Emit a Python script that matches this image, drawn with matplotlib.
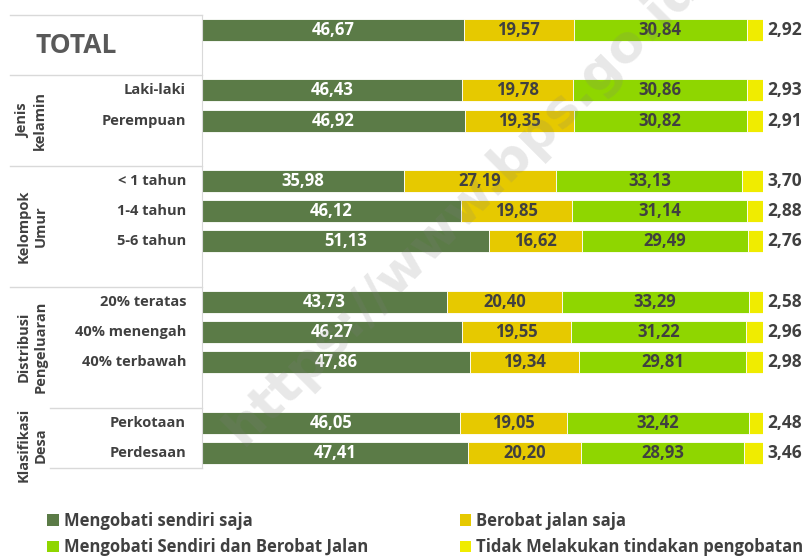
import matplotlib
matplotlib.use("Agg")
import matplotlib.pyplot as plt
from matplotlib.patches import Patch

plt.rcParams['font.family'] = ['Open Sans', 'DejaVu Sans']

# ---- data ----
categories = ["TOTAL", "Laki-laki", "Perempuan", "< 1 tahun", "1-4 tahun", "5-6 tahun",
              "20% teratas", "40% menengah", "40% terbawah", "Perkotaan", "Perdesaan"]
group_of = [0, 1, 1, 2, 2, 2, 3, 3, 3, 4, 4]
group_names = ["", "Jenis\nkelamin", "Kelompok\nUmur", "Distribusi\nPengeluaran", "Klasifikasi\nDesa"]

sendiri = [46.67, 46.43, 46.92, 35.98, 46.12, 51.13, 43.73, 46.27, 47.86, 46.05, 47.41]
jalan = [19.57, 19.78, 19.35, 27.19, 19.85, 16.62, 20.40, 19.55, 19.34, 19.05, 20.20]
keduanya = [30.84, 30.86, 30.82, 33.13, 31.14, 29.49, 33.29, 31.22, 29.81, 32.42, 28.93]
tidak = [2.92, 2.93, 2.91, 3.70, 2.88, 2.76, 2.58, 2.96, 2.98, 2.48, 3.46]

series_names = ["Mengobati sendiri saja", "Berobat jalan saja",
                "Mengobati Sendiri dan Berobat Jalan", "Tidak Melakukan tindakan pengobatan"]
colors = ["#5B7B47", "#E6C900", "#8FD600", "#F0EC00"]
text_dark = "#404040"

# ---- layout ----
W, H = 809, 557
fig = plt.figure(figsize=(W / 100, H / 100), dpi=100)
ax_top_px, ax_bot_px = 0, 480
ax = fig.add_axes([202 / W, 1 - ax_bot_px / H, 561 / W, (ax_bot_px - ax_top_px) / H])

# slot positions: one empty slot between groups
slots = []
s = 0
prev = group_of[0]
for i, g in enumerate(group_of):
    if i > 0:
        s += 2 if g != prev else 1
    slots.append(s)
    prev = g

px_per_slot = 30.2
first_px = 30
ax.set_ylim((ax_bot_px - first_px) / px_per_slot, (ax_top_px - first_px) / px_per_slot)
ax.set_xlim(0, 100)
bar_h = 22 / px_per_slot

series = [sendiri, jalan, keduanya, tidak]
lefts = [0.0] * len(categories)
for k, vals in enumerate(series):
    ax.barh(slots, vals, left=lefts, height=bar_h, color=colors[k],
            edgecolor="white", linewidth=0.6, zorder=2)
    for i, v in enumerate(vals):
        if k < 3:
            ax.text(lefts[i] + v / 2, slots[i], f"{v:.2f}".replace(".", ","),
                    ha="center", va="center", fontsize=12, fontweight="bold",
                    color="white" if k == 0 else text_dark, zorder=3)
        else:
            ax.text(100.8, slots[i], f"{v:.2f}".replace(".", ","),
                    ha="left", va="center", fontsize=12.5, fontweight="bold",
                    color=text_dark, clip_on=False, zorder=3)
    lefts = [a + b for a, b in zip(lefts, vals)]

# axes styling
for sp in ["top", "right", "bottom"]:
    ax.spines[sp].set_visible(False)
ax.spines["left"].set_color("#d9d9d9")
ax.spines["left"].set_linewidth(0.8)
ax.set_xticks([])
ax.set_yticks([])
ax.spines["left"].set_bounds(slots[0] - 0.5, slots[-1] + 0.5)

def x_of_px(px):
    return (px - 202) / 561 * 100

# category labels
for i, c in enumerate(categories):
    if c == "TOTAL":
        ax.text(x_of_px(35), slots[i] + 0.5, c, ha="left", va="center", fontsize=19,
                fontweight="bold", color="#595959", clip_on=False)
    else:
        ax.text(x_of_px(186), slots[i], c, ha="right", va="center", fontsize=10.5,
                fontweight="bold", color=text_dark, clip_on=False)

# separator lines and group labels
n_groups = len(group_names)
bounds = []
for g in range(n_groups):
    idx = [slots[i] for i in range(len(categories)) if group_of[i] == g]
    bounds.append((min(idx) - 0.5, max(idx) + 0.5))
sep_y = [b[0] for b in bounds] + [bounds[-1][1]]
for j, y in enumerate(sep_y):
    x0 = x_of_px(10) if j < 4 else x_of_px(50)
    ax.plot([x0, 0], [y, y], color="#d9d9d9", lw=1.0, clip_on=False, zorder=1)

for g in range(1, n_groups):
    yc = (sep_y[g] + sep_y[g + 1]) / 2
    if g == n_groups - 1:
        yc += 0.25
    ax.text(x_of_px(32), yc, group_names[g], rotation=90, ha="center", va="center",
            multialignment="center", fontsize=10.5, fontweight="bold", color=text_dark,
            linespacing=1.25, clip_on=False)

# watermark
fig.text(243 / W, 1 - 447 / H, "https://www.bps.go.id", rotation=45,
         rotation_mode="anchor", ha="left", va="baseline", fontsize=37.5,
         fontweight="bold", color="gray", alpha=0.18, family="DejaVu Sans", zorder=10)

# legend
handles = [Patch(facecolor=colors[0]), Patch(facecolor=colors[2]),
           Patch(facecolor=colors[1]), Patch(facecolor=colors[3])]
labels = [series_names[0], series_names[2], series_names[1], series_names[3]]
leg = fig.legend(handles, labels, loc="upper left", bbox_to_anchor=(47 / W, 1 - 512 / H),
                 ncol=2, frameon=False, fontsize=12, handlelength=0.7, handleheight=0.7,
                 handletextpad=0.3, columnspacing=5.5, labelspacing=0.5,
                 borderaxespad=0, borderpad=0,
                 prop={"weight": "bold", "size": 12})
for t in leg.get_texts():
    t.set_color(text_dark)

fig.savefig("out.png", dpi=100, facecolor="white")
